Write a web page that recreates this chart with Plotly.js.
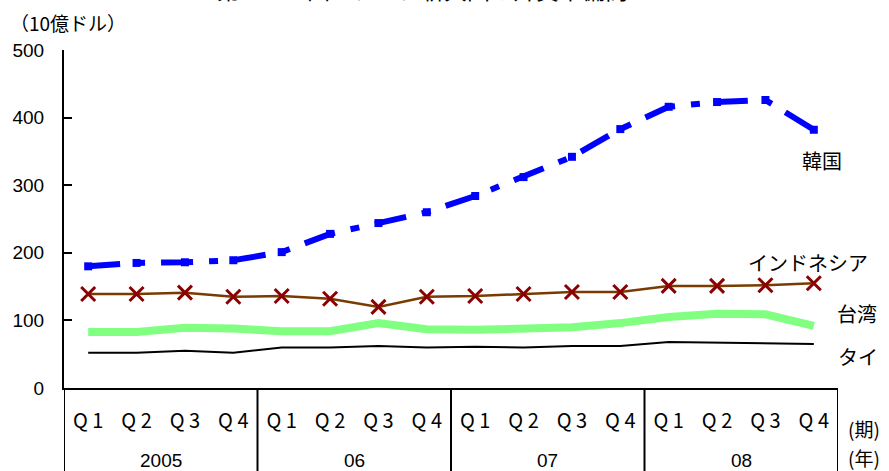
<!DOCTYPE html>
<html>
<head>
<meta charset="utf-8">
<script src="https://cdn.plot.ly/plotly-3.0.1.min.js"></script>
<style>html,body{margin:0;padding:0;background:#fff;}#chart{width:889px;height:471px;}</style>
</head>
<body>
<div id="chart"></div>
<script>
const quarters = ["Q 1","Q 2","Q 3","Q 4","Q 1","Q 2","Q 3","Q 4","Q 1","Q 2","Q 3","Q 4","Q 1","Q 2","Q 3","Q 4"];
const years = ["2005","06","07","08"];
const korea = [180,185,186,189,201,228,244,260,284,312,342,383,416,423,426,382];
const indonesia = [139,139,141,135,136,132,120,135,136,139,142,142,151,151,152,155];
const taiwan = [83,83,89,88,84,84,96,87,86,87,90,96,105,110,109,92];
const thailand = [52,52,55,52,60,60,62,60,61,60,62,62,68,67,66,65];
const seriesNames = ["韓国","インドネシア","台湾","タイ"];

const idx = quarters.map((_, i) => i);
const jp = '"Noto Sans CJK JP", sans-serif';
const ar = '"Liberation Sans", Arial, sans-serif';

const traces = [
  {x: idx, y: thailand, type: 'scatter', mode: 'lines', line: {color: '#000000', width: 2}, name: seriesNames[3]},
  {x: idx, y: taiwan, type: 'scatter', mode: 'lines', line: {color: '#80ff80', width: 8}, name: seriesNames[2]},
  {x: idx, y: indonesia, type: 'scatter', mode: 'lines+markers', line: {color: '#7a3b00', width: 2.5},
   marker: {symbol: 'x-thin', size: 14, line: {color: '#8b0000', width: 3}, color: '#8b0000'}, name: seriesNames[1]},
  {x: idx, y: korea, type: 'scatter', mode: 'lines+markers', line: {color: '#0000ff', width: 6, dash: '32px,16px,9px,16px'},
   marker: {symbol: 'square', size: 8, color: '#0000ff'}, name: seriesNames[0]}
];

const shapes = [];
[-0.5, 3.5, 7.5, 11.5, 15.5].forEach(v => {
  shapes.push({type: 'line', xref: 'x', yref: 'paper', x0: v, x1: v, y0: 0, y1: -0.3, line: {color: '#000', width: 2}});
});

const annotations = [];
years.forEach((yr, k) => {
  annotations.push({xref: 'x', yref: 'paper', x: 4 * k + 1.5, y: -0.215, text: yr, showarrow: false,
    font: {family: ar, size: 19, color: '#000'}, xanchor: 'center', yanchor: 'middle'});
});
const labelPos = [
  {t: seriesNames[0], x: 822, y: 160},
  {t: seriesNames[1], x: 808, y: 262},
  {t: seriesNames[2], x: 857, y: 313},
  {t: seriesNames[3], x: 858, y: 356}
];
const W = 889, H = 471, L = 64, R = 51, T = 50, B = 83;
const px = x => (x - L) / (W - L - R);
const py = y => (H - B - y) / (H - T - B);
labelPos.forEach(p => {
  annotations.push({xref: 'paper', yref: 'paper', x: px(p.x), y: py(p.y), text: p.t, showarrow: false,
    font: {family: jp, size: 20, color: '#000'}, xanchor: 'center', yanchor: 'middle'});
});
annotations.push({xref: 'paper', yref: 'paper', x: px(8), y: py(22), text: '（10億ドル）', showarrow: false,
  font: {family: jp, size: 19, color: '#000'}, xanchor: 'left', yanchor: 'middle'});
annotations.push({xref: 'paper', yref: 'paper', x: px(864), y: py(428), text: '(期)', showarrow: false,
  font: {family: jp, size: 19, color: '#000'}, xanchor: 'center', yanchor: 'middle'});
annotations.push({xref: 'paper', yref: 'paper', x: px(864), y: py(457), text: '(年)', showarrow: false,
  font: {family: jp, size: 19, color: '#000'}, xanchor: 'center', yanchor: 'middle'});
annotations.push({xref: 'paper', yref: 'paper', x: px(422), y: py(-11), text: '第1-2-13図　アジア新興国の外貨準備高', showarrow: false,
  font: {family: jp, size: 23, color: '#000'}, xanchor: 'center', yanchor: 'middle'});

const layout = {
  width: W, height: H,
  margin: {l: L, r: R, t: T, b: B, pad: 0},
  paper_bgcolor: '#fff', plot_bgcolor: '#fff',
  showlegend: false,
  xaxis: {
    range: [-0.5, 15.5], tickvals: idx, ticktext: quarters, showgrid: false, zeroline: false,
    showline: true, linecolor: '#000', linewidth: 2, ticks: '', ticklabelstandoff: 14,
    tickfont: {family: jp, size: 20, color: '#000'}, fixedrange: true
  },
  yaxis: {
    range: [0, 500], dtick: 100, showgrid: false, zeroline: false,
    showline: true, linecolor: '#000', linewidth: 2, ticks: 'inside', ticklen: 8, tickwidth: 2, tickcolor: '#000',
    ticklabelstandoff: 14, tickfont: {family: ar, size: 19, color: '#000'}, fixedrange: true
  },
  shapes: shapes,
  annotations: annotations
};

Plotly.newPlot('chart', traces, layout, {displayModeBar: false, staticPlot: true});
</script>
</body>
</html>
